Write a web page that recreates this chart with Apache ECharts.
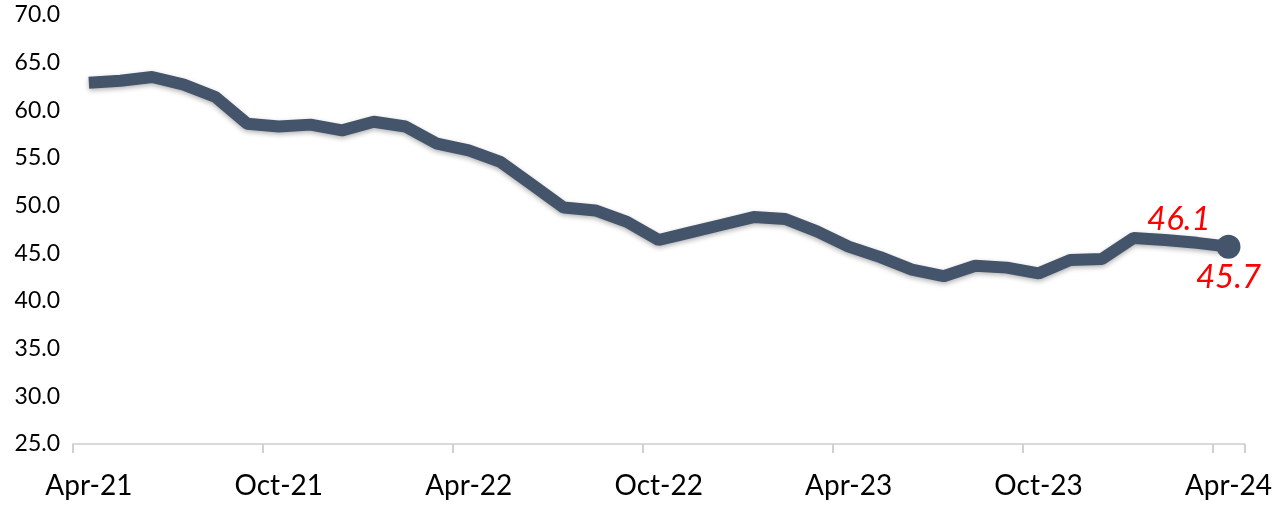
<!DOCTYPE html>
<html>
<head>
<meta charset="utf-8">
<script src="https://cdn.jsdelivr.net/npm/echarts@6/dist/echarts.min.js"></script>
<style>
  html, body { margin: 0; padding: 0; background: #fff; }
  #chart { width: 1275px; height: 506px; }
</style>
</head>
<body>
<div id="chart"></div>
<script>
const months = [
  'Apr-21', 'May-21', 'Jun-21', 'Jul-21', 'Aug-21', 'Sep-21',
  'Oct-21', 'Nov-21', 'Dec-21', 'Jan-22', 'Feb-22', 'Mar-22',
  'Apr-22', 'May-22', 'Jun-22', 'Jul-22', 'Aug-22', 'Sep-22',
  'Oct-22', 'Nov-22', 'Dec-22', 'Jan-23', 'Feb-23', 'Mar-23',
  'Apr-23', 'May-23', 'Jun-23', 'Jul-23', 'Aug-23', 'Sep-23',
  'Oct-23', 'Nov-23', 'Dec-23', 'Jan-24', 'Feb-24', 'Mar-24',
  'Apr-24'
];
const values = [
  62.9, 63.1, 63.5, 62.7, 61.4, 58.6,
  58.3, 58.5, 57.9, 58.8, 58.3, 56.5,
  55.8, 54.6, 52.2, 49.8, 49.5, 48.3,
  46.4, 47.2, 48.0, 48.8, 48.6, 47.3,
  45.7, 44.6, 43.3, 42.6, 43.7, 43.5,
  42.9, 44.3, 44.4, 46.6, 46.4, 46.1,
  45.7
];
// points that carry a red label
const labelled = { 35: 'top', 36: 'bottom' };

const lineColor = '#44546A';

let chart = echarts.init(document.getElementById('chart'));

const seriesData = values.map((v, i) => {
  if (labelled[i] === 'top') {
    return {
      value: v,
      symbol: 'circle',
      symbolSize: 1,
      label: { show: true, position: 'top', distance: 6, offset: [-18, 0] }
    };
  }
  if (labelled[i] === 'bottom') {
    return {
      value: v,
      symbol: 'circle',
      symbolSize: 24,
      label: { show: true, position: 'bottom', distance: 2 }
    };
  }
  return { value: v, symbol: 'none' };
});

chart.setOption({
  animation: false,
  grid: { left: 73, right: 28, top: 15, bottom: 62 },
  xAxis: {
    type: 'category',
    data: months,
    boundaryGap: true,
    axisLine: { show: true, lineStyle: { color: '#d9d9d9', width: 2 } },
    axisTick: { show: true, interval: 5, length: 9, lineStyle: { color: '#d0d0d0', width: 2 } },
    axisLabel: {
      interval: 5,
      margin: 28,
      color: '#000',
      fontFamily: 'Lato',
      fontSize: 28
    }
  },
  yAxis: {
    type: 'value',
    min: 25,
    max: 70,
    interval: 5,
    axisLine: { show: false },
    axisTick: { show: false },
    splitLine: { show: false },
    axisLabel: {
      margin: 13,
      color: '#000',
      fontFamily: 'Lato',
      fontSize: 23,
      formatter: v => v.toFixed(1)
    }
  },
  series: [{
    type: 'line',
    data: seriesData,
    showAllSymbol: true,
    itemStyle: { color: lineColor },
    lineStyle: {
      color: lineColor,
      width: 12,
      shadowBlur: 5,
      shadowColor: 'rgba(0,0,0,0.3)',
      shadowOffsetY: 2
    },
    label: {
      show: false,
      color: '#ff0000',
      fontFamily: 'Lato',
      fontStyle: 'italic',
      fontSize: 33,
      formatter: p => p.value.toFixed(1)
    }
  }]
});
</script>
</body>
</html>
